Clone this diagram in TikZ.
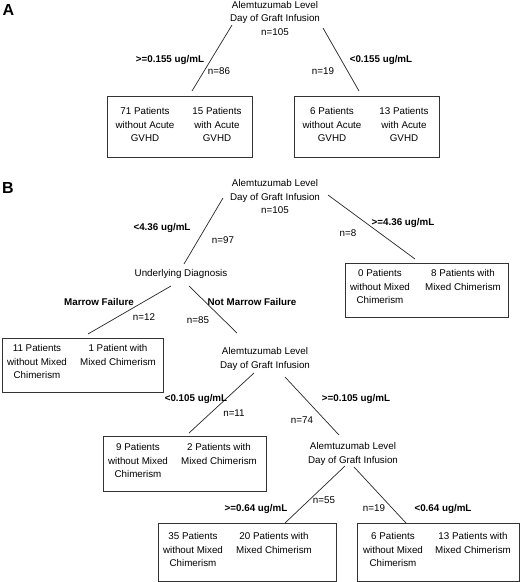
\documentclass[tikz,border=0pt]{standalone}
\usepackage{fontspec}
\setmainfont{Liberation Sans}
\begin{document}
\begin{tikzpicture}[x=1pt,y=-1pt,
 txt/.style={font=\fontsize{9.8}{13.5}\selectfont, align=center, inner sep=0pt, anchor=north},
 lbl/.style={font=\fontsize{9.8}{13.5}\selectfont\bfseries, inner sep=0pt, text height=7.2pt, text depth=2pt},
 nlbl/.style={font=\fontsize{9.8}{13.5}\selectfont, inner sep=0pt, text height=7.2pt, text depth=2pt},
 box/.style={draw=black!80, line width=0.8pt, inner sep=0pt},
 edge/.style={draw=black!85, line width=0.7pt},
 panel/.style={font=\fontsize{16}{18}\selectfont\bfseries, inner sep=0pt}]
\useasboundingbox (0,0) rectangle (520,582);

% ---------------- Panel A ----------------
\node[panel] (labA) at (8.5,9.5) {A};
\node[txt] (topA) at (275,1) {Alemtuzumab Level\\Day of Graft Infusion\\n=105};

\node[box, minimum width=145pt, minimum height=61pt] (boxA1) at (179.5,126.5) {};
\node[txt] (a1l) at (145,107.3) {71 Patients\\without Acute\\GVHD};
\node[txt] (a1r) at (217,107.3) {15 Patients\\with Acute\\GVHD};
\node[box, minimum width=145pt, minimum height=61pt] (boxA2) at (366.5,126.5) {};
\node[txt] (a2l) at (332,107.3) {6 Patients\\without Acute\\GVHD};
\node[txt] (a2r) at (404,107.3) {13 Patients\\with Acute\\GVHD};

\coordinate (eA1s) at (232,25);  \coordinate (eA1e) at (192,91);
\coordinate (eA2s) at (323,28);  \coordinate (eA2e) at (359,91);
\draw[edge] (eA1s) -- (eA1e);
\draw[edge] (eA2s) -- (eA2e);
\node[lbl] (lA1) at (170,60) {>=0.155 ug/mL};
\node[lbl] (lA2) at (381,60) {<0.155 ug/mL};
\node[nlbl] (nA1) at (219,72) {n=86};
\node[nlbl] (nA2) at (323,72) {n=19};

% ---------------- Panel B ----------------
\node[panel] (labB) at (8,188) {B};
\node[txt] (topB) at (275,179.3) {Alemtuzumab Level\\Day of Graft Infusion\\n=105};

\node[box, minimum width=163pt, minimum height=54pt] (boxR) at (426.5,290) {};
\node[txt] (rl) at (380,269.3) {0 Patients\\without Mixed\\Chimerism};
\node[txt] (rr) at (463,269.3) {8 Patients with\\Mixed Chimerism};

\node[nlbl] (diag) at (181,274) {Underlying Diagnosis};

\node[box, minimum width=161pt, minimum height=54pt] (boxMF) at (82.5,365) {};
\node[txt] (mfl) at (37,344.3) {11 Patients\\without Mixed\\Chimerism};
\node[txt] (mfr) at (118,344.3) {1 Patient with\\Mixed Chimerism};

\node[txt] (alem2) at (265,347.3) {Alemtuzumab Level\\Day of Graft Infusion};

\node[box, minimum width=163pt, minimum height=55pt] (box9) at (184.5,463.5) {};
\node[txt] (b9l) at (138,443.3) {9 Patients\\without Mixed\\Chimerism};
\node[txt] (b9r) at (219,443.3) {2 Patients with\\Mixed Chimerism};

\node[txt] (alem3) at (353,442.3) {Alemtuzumab Level\\Day of Graft Infusion};

\node[box, minimum width=178pt, minimum height=58pt] (box35) at (247,552) {};
\node[txt] (b35l) at (193,532.3) {35 Patients\\without Mixed\\Chimerism};
\node[txt] (b35r) at (274,532.3) {20 Patients with\\Mixed Chimerism};

\node[box, minimum width=162pt, minimum height=58pt] (box6) at (438,552) {};
\node[txt] (b6l) at (393,532.3) {6 Patients\\without Mixed\\Chimerism};
\node[txt] (b6r) at (473,532.3) {13 Patients with\\Mixed Chimerism};

% connectors
\coordinate (eB1s) at (223,198);  \coordinate (eB1e) at (184,264);
\coordinate (eB2s) at (328,195);  \coordinate (eB2e) at (415,259);
\coordinate (eB3s) at (171,286);  \coordinate (eB3e) at (88,334);
\coordinate (eB4s) at (189,286);  \coordinate (eB4e) at (237,333);
\coordinate (eB5s) at (254,373);  \coordinate (eB5e) at (189,433);
\coordinate (eB6s) at (285,377);  \coordinate (eB6e) at (339,435);
\coordinate (eB7s) at (345,466);  \coordinate (eB7e) at (285,523);
\coordinate (eB8s) at (354,467);  \coordinate (eB8e) at (406,523);
\draw[edge] (eB1s) -- (eB1e);
\draw[edge] (eB2s) -- (eB2e);
\draw[edge] (eB3s) -- (eB3e);
\draw[edge] (eB4s) -- (eB4e);
\draw[edge] (eB5s) -- (eB5e);
\draw[edge] (eB6s) -- (eB6e);
\draw[edge] (eB7s) -- (eB7e);
\draw[edge] (eB8s) -- (eB8e);

% labels
\node[lbl] (lB1) at (162,228) {<4.36 ug/mL};
\node[lbl] (lB2) at (403,223) {>=4.36 ug/mL};
\node[lbl] (lB3) at (99,303) {Marrow Failure};
\node[lbl] (lB4) at (252,303) {Not Marrow Failure};
\node[lbl] (lB5) at (196,399) {<0.105 ug/mL};
\node[lbl] (lB6) at (356,399) {>=0.105 ug/mL};
\node[lbl] (lB7) at (256,509) {>=0.64 ug/mL};
\node[lbl] (lB8) at (443,509) {<0.64 ug/mL};

\node[nlbl] (nB1) at (223,241) {n=97};
\node[nlbl] (nB2) at (348,234) {n=8};
\node[nlbl] (nB3) at (144,318) {n=12};
\node[nlbl] (nB4) at (198,321) {n=85};
\node[nlbl] (nB5) at (234,414) {n=11};
\node[nlbl] (nB6) at (302,421) {n=74};
\node[nlbl] (nB7) at (324,501) {n=55};
\node[nlbl] (nB8) at (374,509) {n=19};
\end{tikzpicture}
\end{document}
